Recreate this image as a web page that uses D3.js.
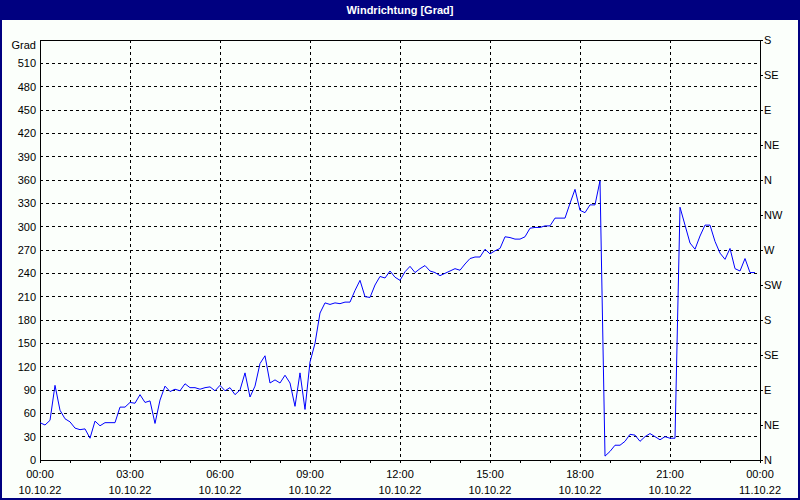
<!DOCTYPE html>
<html>
<head>
<meta charset="utf-8">
<style>
body { margin: 0; background: #fff; }
svg { display: block; font-family: 'Liberation Sans Narrow', 'Liberation Sans', sans-serif; }
.frame { fill: none; stroke: #000; stroke-width: 1px; shape-rendering: crispEdges; }
.grid line { stroke: #000; stroke-dasharray: 3,3; shape-rendering: crispEdges; }
.axis path { display: none; }
.axis line { stroke: #000; shape-rendering: crispEdges; }
.axis text, .lbl { fill: #000; font-size: 11px; }
.data-line { fill: none; stroke: #0000ff; stroke-width: 1px; }
.title { fill: #fff; font-size: 11px; font-weight: bold; text-anchor: middle; }
</style>
</head>
<body>
<svg width="800" height="500"></svg>
<script src="https://cdn.jsdelivr.net/npm/d3@7"></script>
<script>
// Windrichtung, 10-Minuten-Werte vom 10.10.22 00:00 bis 23:50
var startTime = new Date(2022, 9, 10, 0, 0);
var stepMinutes = 10;
var values = [
  48, 45, 51, 96, 64, 53, 49, 41, 39, 40, 28, 50, 44, 48, 48, 48, 68, 68,
  74, 73, 84, 74, 76, 47, 77, 95, 88, 91, 89, 98, 93, 93, 91, 93, 94, 89,
  96, 89, 93, 84, 90, 112, 81, 95, 124, 134, 99, 103, 99, 109, 99, 69, 112, 65,
  126, 150, 189, 202, 200, 202, 201, 203, 203, 218, 231, 210, 209, 225, 236, 234,
  243, 235, 231, 242, 249, 241, 246, 250, 243, 241, 237, 240, 243, 246, 244, 252,
  259, 261, 261, 271, 265, 269, 272, 287, 286, 284, 284, 287, 298, 299, 299, 301,
  301, 311, 311, 311, 330, 348, 321, 318, 328, 328, 359, 5, 11, 19, 19, 24,
  33, 32, 24, 30, 34, 30, 26, 30, 28, 28, 325, 302, 279, 271, 288, 302,
  302, 281, 266, 258, 272, 246, 243, 259, 241, 241
];
var gradTicks = [0, 30, 60, 90, 120, 150, 180, 210, 240, 270, 300, 330, 360, 390, 420, 450, 480, 510];
var dirTicks = [0, 45, 90, 135, 180, 225, 270, 315, 360, 405, 450, 495, 540];
var dirNames = ["N", "NE", "E", "SE", "S", "SW", "W", "NW", "N", "NE", "E", "SE", "S"];

var svg = d3.select("svg"),
    W = +svg.attr("width"),
    H = +svg.attr("height"),
    margin = {top: 40, right: 40, bottom: 40, left: 40},
    width = W - margin.left - margin.right,
    height = H - margin.top - margin.bottom;

// Fenster: Hintergrund, Rahmen und Titelleiste
svg.append("rect").attr("x", 1).attr("y", 1).attr("width", W - 2).attr("height", H - 2)
    .attr("fill", "#fbfffb").attr("stroke", "#000080").attr("stroke-width", 2);
svg.append("rect").attr("x", 0).attr("y", 0).attr("width", W).attr("height", 20).attr("fill", "#000080");
svg.append("text").attr("class", "title").attr("x", W / 2).attr("y", 10).attr("dy", "0.35em")
    .text("Windrichtung [Grad]");

var endTime = d3.timeDay.offset(startTime, 1);
var x = d3.scaleTime().domain([startTime, endTime]).range([0, width]);
var y = d3.scaleLinear().domain([0, 540]).range([height, 0]);

var g = svg.append("g").attr("transform", "translate(" + margin.left + "," + margin.top + ")");

// Gitter
var grid = g.append("g").attr("class", "grid");
grid.selectAll(".h").data(gradTicks.filter(function(d) { return d > 0; }))
  .enter().append("line")
    .attr("x1", 0).attr("x2", width)
    .attr("y1", function(d) { return y(d); }).attr("y2", function(d) { return y(d); });
var majorTimes = d3.timeHour.every(3).range(startTime, d3.timeMinute.offset(endTime, 1));
grid.selectAll(".v").data(majorTimes.slice(1, -1))
  .enter().append("line")
    .attr("y1", 0).attr("y2", height)
    .attr("x1", function(d) { return x(d); }).attr("x2", function(d) { return x(d); });

// Linke Achse
g.append("g").attr("class", "axis")
    .call(d3.axisLeft(y).tickValues(gradTicks).tickSize(0).tickPadding(4));
g.append("text").attr("class", "lbl").attr("x", -4).attr("y", 5).attr("dy", "0.32em")
    .attr("text-anchor", "end").text("Grad");

// Rechte Achse (Himmelsrichtungen)
g.append("g").attr("class", "axis")
    .attr("transform", "translate(" + width + ",0)")
    .call(d3.axisRight(y).tickValues(dirTicks).tickSize(3).tickPadding(1)
      .tickFormat(function(d, i) { return dirNames[i]; }));

// Untere Achse: Stundenstriche, Beschriftung alle 3 Stunden
g.append("g").attr("class", "axis")
    .attr("transform", "translate(0," + height + ")")
    .call(d3.axisBottom(x).ticks(d3.timeHour.every(1)).tickSize(3).tickFormat(""));

var fmtTime = d3.timeFormat("%H:%M"), fmtDate = d3.timeFormat("%d.%m.%y");
var xl = g.append("g").selectAll("text").data(majorTimes).enter().append("text")
    .attr("class", "lbl").attr("text-anchor", "middle")
    .attr("transform", function(d) { return "translate(" + x(d) + "," + height + ")"; });
xl.append("tspan").attr("x", 0).attr("y", 18).text(fmtTime);
xl.append("tspan").attr("x", 0).attr("y", 34).text(fmtDate);

// Rahmen
g.append("rect").attr("class", "frame").attr("x", 0).attr("y", 0).attr("width", width).attr("height", height);

// Datenlinie
var line = d3.line()
    .x(function(d, i) { return x(d3.timeMinute.offset(startTime, i * stepMinutes)); })
    .y(function(d) { return y(d); });
g.append("path").datum(values).attr("class", "data-line").attr("d", line);
</script>
</body>
</html>
